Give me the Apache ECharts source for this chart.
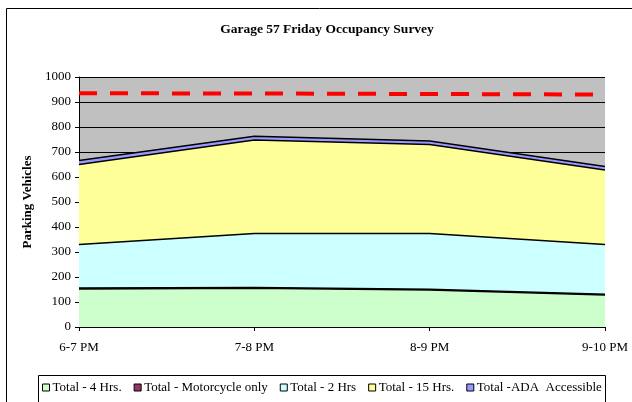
<!DOCTYPE html>
<html>
<head>
<meta charset="utf-8">
<script src="https://cdn.jsdelivr.net/npm/echarts@6/dist/echarts.min.js"></script>
<style>
html,body{margin:0;padding:0;background:#fff;}
#chart{width:632px;height:402px;}
</style>
</head>
<body>
<div id="chart"></div>
<script>
const categories = ['6-7 PM', '7-8 PM', '8-9 PM', '9-10 PM'];
const total4Hrs = [152, 155, 148, 128];
const totalMotorcycle = [4, 3, 3, 3];
const total2Hrs = [174, 216, 223, 199];
const total15Hrs = [320, 374, 356, 298];
const totalADA = [16, 15, 14, 14];
const capacity = [935, 934, 932, 930];
const seriesNames = ['Total - 4 Hrs.', 'Total - Motorcycle only', 'Total - 2 Hrs', 'Total - 15 Hrs.', 'Total -ADA  Accessible'];
const seriesColors = ['#CCFFCC', '#993366', '#CCFFFF', '#FFFF99', '#9999FF'];
const yTicks = [0, 100, 200, 300, 400, 500, 600, 700, 800, 900, 1000];

const font = '"Liberation Serif", "Times New Roman", serif';
const chart = echarts.init(document.getElementById('chart'), null, {renderer: 'canvas'});
const stackData = [total4Hrs, totalMotorcycle, total2Hrs, total15Hrs, totalADA];

const series = stackData.map((d, i) => ({
  name: seriesNames[i],
  type: 'line',
  stack: 'total',
  data: d,
  symbol: 'none',
  lineStyle: {color: '#000', width: 1.3},
  areaStyle: {color: seriesColors[i], opacity: 1},
  itemStyle: {color: seriesColors[i], borderColor: '#000', borderWidth: 1},
  z: 2
}));
series.push({
  name: 'Capacity',
  type: 'line',
  data: capacity,
  symbol: 'none',
  lineStyle: {color: '#FF0000', width: 4, type: [18, 13]},
  z: 3
});

chart.setOption({
  animation: false,
  backgroundColor: '#fff',
  title: {
    text: 'Garage 57 Friday Occupancy Survey',
    left: 322, top: 18, textAlign: 'center',
    textStyle: {fontFamily: font, fontSize: 13.5, fontWeight: 'bold', color: '#000'}
  },
  graphic: [
    {type: 'rect', shape: {x: 6.5, y: 8.5, width: 700, height: 500}, style: {fill: 'none', stroke: '#000', lineWidth: 1}, z: 0},
    {type: 'rect', shape: {x: 38.5, y: 375.5, width: 567, height: 60}, style: {fill: '#fff', stroke: '#000', lineWidth: 1}, z: 0}
  ],
  legend: {
    data: seriesNames,
    left: 42, top: 381,
    orient: 'horizontal',
    itemWidth: 7, itemHeight: 7, itemGap: 12,
    icon: 'rect',
    padding: 0,
    textStyle: {fontFamily: font, fontSize: 13, color: '#000', padding: [0, 0, 0, -2]},
    itemStyle: {borderColor: '#000', borderWidth: 1},
    z: 5
  },
  grid: {
    left: 79, right: 27, top: 77, bottom: 75,
    show: true, backgroundColor: '#C0C0C0', borderWidth: 0
  },
  xAxis: {
    type: 'category', data: categories, boundaryGap: false,
    axisLine: {lineStyle: {color: '#000', width: 1}},
    axisTick: {show: true, length: 4, lineStyle: {color: '#000'}},
    axisLabel: {fontFamily: font, fontSize: 13, color: '#000', margin: 14},
    z: 4
  },
  yAxis: {
    type: 'value', min: yTicks[0], max: yTicks[yTicks.length - 1], interval: 100,
    name: 'Parking Vehicles', nameLocation: 'middle', nameGap: 43, nameRotate: 90,
    nameTextStyle: {fontFamily: font, fontSize: 13, fontWeight: 'bold', color: '#000'},
    axisLine: {show: true, lineStyle: {color: '#000', width: 1}},
    axisTick: {show: true, length: 4, inside: false, lineStyle: {color: '#000'}},
    axisLabel: {fontFamily: font, fontSize: 13, color: '#000', margin: 8, formatter: v => String(v)},
    splitLine: {show: true, lineStyle: {color: '#000', width: 1}},
    z: 1
  },
  series: series
});
</script>
</body>
</html>
